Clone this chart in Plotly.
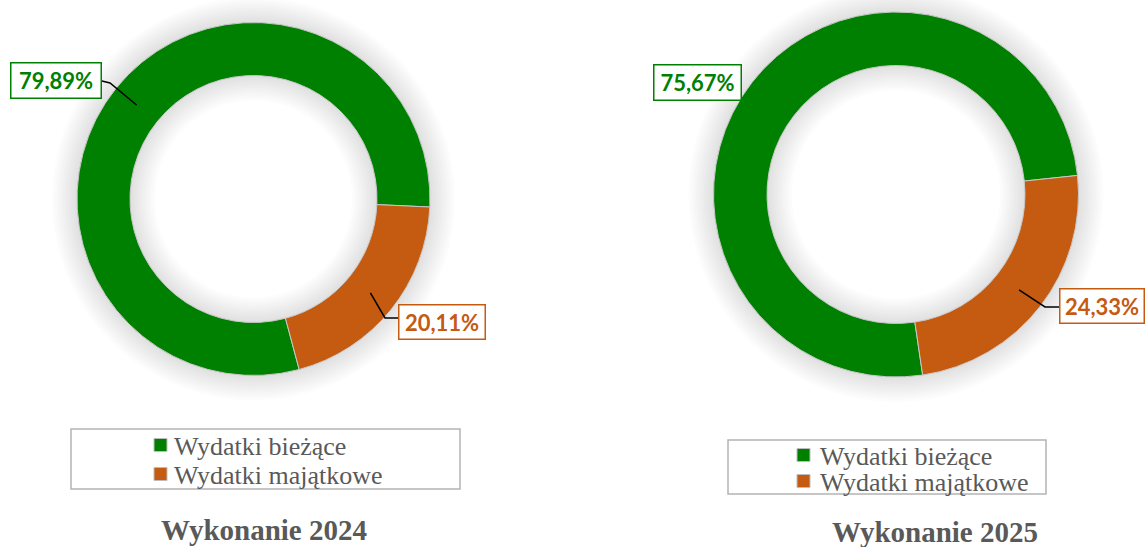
import math
import plotly.graph_objects as go

W, H = 1147, 547

# ---- data ----
categories = ["Wydatki bieżące", "Wydatki majątkowe"]
values_2024 = [79.89, 20.11]
values_2025 = [75.67, 24.33]
label_2024 = ["79,89%", "20,11%"]
label_2025 = ["75,67%", "24,33%"]
titles = ["Wykonanie 2024", "Wykonanie 2025"]
colors = ["#008000", "#C55A11"]

# ---- layout geometry (pixels) ----
pies = [
    dict(vals=values_2024, texts=label_2024, title=titles[0], cx=253.5, cy=199, r=176.5, rin=123.5,
         rot=165.0, name="2024",
         boxes=[(56, 80.5, 89, 34), (442, 322, 85, 33)],
         leaders=[[(110, 83), (102, 81)], [(385, 318), (398, 318)]],
         show_leader=[True, True],
         legbox=(71, 429, 460, 489), sq_x=154, txt_x=172, rows=[445, 474],
         title_xy=(264, 530)),
    dict(vals=values_2025, texts=label_2025, title=titles[1], cx=896, cy=194.5, r=182.5, rin=129,
         rot=171.6, name="2025",
         boxes=[(697.5, 82.5, 86, 34), (1102, 306, 83, 33)],
         leaders=[[(742, 83), (742, 83)], [(1045, 307), (1059, 307)]],
         show_leader=[False, True],
         legbox=(728, 440, 1046, 494), sq_x=797, txt_x=818, rows=[455, 481],
         title_xy=(935, 532)),
]


def px(x):
    return x / W


def py(y):
    return 1 - y / H


fig = go.Figure()
shapes = []
annotations = []

for p in pies:
    cx, cy, r = p["cx"], p["cy"], p["r"]
    fig.add_trace(go.Pie(
        labels=categories, values=p["vals"], name=p["name"],
        hole=p["rin"] / r, sort=False, direction="clockwise", rotation=p["rot"],
        marker=dict(colors=colors, line=dict(color="#c8c8c8", width=1)),
        textinfo="none", hoverinfo="label+percent", showlegend=False,
        domain=dict(x=[px(cx - r), px(cx + r)], y=[py(cy + r), py(cy - r)]),
    ))

    # soft shadow around the ring (outer and inner edges)
    for rad in (r, p["rin"]):
        for k in range(1, 11):
            shapes.append(dict(
                type="circle", xref="paper", yref="paper", layer="below",
                xsizemode="pixel", ysizemode="pixel",
                xanchor=px(cx), yanchor=py(cy),
                x0=-rad, x1=rad, y0=-rad, y1=rad,
                line=dict(color="rgba(0,0,0,0.013)", width=5 * k),
                fillcolor="rgba(0,0,0,0)",
            ))

    # data labels with leader lines, computed from the slice mid-angles
    total = sum(p["vals"])
    start = p["rot"]
    rmid = (r + p["rin"]) / 2
    for i, v in enumerate(p["vals"]):
        span = 360 * v / total
        mid = math.radians(start + span / 2)
        start += span
        sx = cx + rmid * math.sin(mid)
        sy = cy - rmid * math.cos(mid)
        bx, by, bw, bh = p["boxes"][i]
        if p["show_leader"][i]:
            (ex, ey), (fx, fy) = p["leaders"][i]
            path = "M %f,%f L %f,%f L %f,%f" % (px(sx), py(sy), px(ex), py(ey), px(fx), py(fy))
            shapes.append(dict(type="path", xref="paper", yref="paper", path=path,
                               line=dict(color="black", width=1.5)))
        annotations.append(dict(
            x=px(bx), y=py(by), xref="paper", yref="paper", showarrow=False,
            xanchor="center", yanchor="middle",
            text="<b>%s</b>" % p["texts"][i],
            font=dict(family="Lato", size=22, color=colors[i]),
            bordercolor=colors[i], borderwidth=1.5, borderpad=0,
            bgcolor="white", width=bw, height=bh, align="center", valign="middle",
        ))

    # legend box and entries
    x0, y0, x1, y1 = p["legbox"]
    shapes.append(dict(type="rect", xref="paper", yref="paper",
                       x0=px(x0), x1=px(x1), y0=py(y1), y1=py(y0),
                       line=dict(color="#b4b4b4", width=1.5), fillcolor="white", layer="below"))
    for i, cat in enumerate(categories):
        ry = p["rows"][i]
        shapes.append(dict(type="rect", xref="paper", yref="paper",
                           x0=px(p["sq_x"]), x1=px(p["sq_x"] + 13),
                           y0=py(ry + 6.5), y1=py(ry - 6.5),
                           line=dict(color="#bdbdbd", width=1), fillcolor=colors[i]))
        annotations.append(dict(
            x=px(p["txt_x"]), y=py(ry + 1), xref="paper", yref="paper", showarrow=False,
            xanchor="left", yanchor="middle", text=cat,
            font=dict(family="Liberation Serif", size=26, color="#595959"),
        ))

    tx, ty = p["title_xy"]
    annotations.append(dict(
        x=px(tx), y=py(ty), xref="paper", yref="paper", showarrow=False,
        xanchor="center", yanchor="middle", text="<b>%s</b>" % p["title"],
        font=dict(family="Liberation Serif", size=29, color="#595959"),
    ))

fig.update_layout(
    width=W, height=H, margin=dict(l=0, r=0, t=0, b=0),
    paper_bgcolor="white", plot_bgcolor="white",
    showlegend=False, shapes=shapes, annotations=annotations,
)

fig.write_html("out.html")
